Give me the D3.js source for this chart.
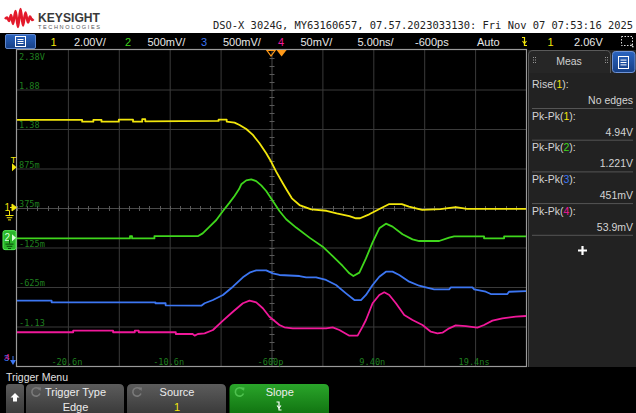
<!DOCTYPE html>
<html><head><meta charset="utf-8">
<script src="https://cdn.jsdelivr.net/npm/d3@7"></script>
<style>
html,body{margin:0;padding:0;background:#fff;}
svg{display:block;}
</style></head><body>
<svg id="c" width="636" height="413"></svg>
<script>
// ---------------- data ----------------
const titleText = "DSO-X 3024G, MY63160657, 07.57.2023033130: Fri Nov 07 07:53:16 2025";
const channels = ["1", "2", "3", "4"];
const channelColors = ["#f2e60c", "#3fd61c", "#3c76f2", "#f0189a"];
const voltsPerDiv = [2.0, 0.5, 0.5, 0.05];
const scaleLabels = ["2.00V/", "500mV/", "500mV/", "50mV/"];
const groundDiv = [0, -0.75, -4.5, -4.5];
const timeRange = [-25.6, 24.4];
const timeBase = "5.00ns/";
const delayLabel = "-600ps";
const modeLabel = "Auto";
const trigLevel = "2.06V";
const trigLevelVolts = 2.06;
const xTickValues = [-20.6, -10.6, -0.6, 9.4, 19.4];
const xTickLabels = ["-20.6n", "-10.6n", "-600p", "9.40n", "19.4ns"];
const yTickDivs = [4, 3, 2, 1, 0, -1, -2, -3];
const yTickLabels = ["2.38V", "1.88", "1.38", "875m", "375m", "-125m", "-625m", "-1.13"];
const measNames = ["Rise", "Pk-Pk", "Pk-Pk", "Pk-Pk", "Pk-Pk"];
const measChannels = [0, 0, 1, 2, 3];
const measValues = ["No edges", "4.94V", "1.221V", "451mV", "53.9mV"];
const softkeyTitles = ["Trigger Type", "Source", "Slope"];
const softkeyValues = ["Edge", "1", ""];

const ch1Time = [-25.6,-19.2,-19.2,-18.1,-18.1,-17.3,-17.3,-15.6,-15.6,-14.2,-14.2,-13.3,-13.3,-13.0,-13.0,-5.8,-5.8,-5.0,-5.0,-4.23,-3.74,-3.08,-2.43,-1.78,-1.12,-0.63,-0.14,0.51,0.9,1.4,2.15,3.3,4.8,5.8,7.05,7.7,8.1,9.0,10.0,10.97,12.2,12.9,14.2,16.0,17.5,18.6,24.4];
const ch1Volts = [4.46,4.46,4.37,4.37,4.46,4.46,4.37,4.37,4.47,4.47,4.37,4.37,4.5,4.5,4.39,4.41,4.47,4.47,4.37,4.32,4.20,4.0,3.70,3.28,2.77,2.34,1.84,1.25,0.91,0.49,0.15,-0.07,-0.14,-0.27,-0.41,-0.52,-0.52,-0.32,-0.05,0.20,0.20,0.07,-0.10,-0.06,0.04,-0.04,-0.04];

const ch2Time = [-25.6,-14.5,-14.5,-14.3,-14.3,-12.1,-12.1,-7.8,-7.36,-6.68,-6.02,-5.37,-4.72,-4.23,-3.8,-3.57,-3.08,-2.59,-2.1,-1.61,-1.12,-0.63,0.18,0.84,1.82,3.13,4.43,5.41,6.39,7.05,7.44,8.03,8.68,9.33,9.99,10.64,11.29,12.27,13.25,13.91,15.87,16.85,17.34,20.28,20.28,22.25,22.25,24.4];
const ch2Volts = [-0.01,-0.01,0.02,0.02,-0.01,-0.01,0.02,0.02,0.054,0.139,0.223,0.337,0.443,0.527,0.611,0.675,0.725,0.738,0.716,0.662,0.59,0.494,0.337,0.232,0.127,0,-0.114,-0.233,-0.359,-0.452,-0.486,-0.443,-0.263,-0.06,0.118,0.177,0.139,0.042,-0.022,-0.043,-0.043,0,0.016,0.016,-0.009,-0.009,0.016,0.016];

const ch3Time = [-25.6,-22.2,-22.2,-12.0,-12.0,-11.0,-11.0,-7.5,-7.17,-6.35,-5.37,-4.39,-3.41,-2.76,-2.1,-1.12,-0.47,0.18,2.15,2.8,3.78,4.76,5.74,6.72,7.54,8.19,8.68,9.33,9.99,10.64,11.29,11.95,12.93,13.91,14.56,15.38,16.85,17.02,19.14,19.31,20.45,20.94,22.57,22.73,24.4];
const ch3Volts = [1.077,1.077,1.056,1.056,1.044,1.044,1.018,1.013,1.044,1.085,1.149,1.254,1.373,1.431,1.461,1.461,1.423,1.402,1.389,1.373,1.373,1.339,1.275,1.17,1.085,1.085,1.149,1.275,1.38,1.444,1.444,1.402,1.317,1.266,1.246,1.221,1.221,1.246,1.246,1.221,1.19,1.161,1.161,1.19,1.199];

const ch4Time = [-25.6,-20.08,-20.08,-16.16,-16.16,-14.03,-14.03,-13.64,-13.64,-10.0,-10.0,-8.35,-8.15,-7.83,-7.17,-6.35,-5.37,-4.39,-3.41,-2.76,-2.1,-1.45,-0.8,0.18,0.67,1.49,4.76,5.41,6.07,7.05,7.86,8.35,8.68,9.33,9.99,10.48,10.97,11.62,12.44,13.25,14.23,15.05,15.7,16.19,16.85,17.5,18.48,19.62,20.28,21.1,22.08,23.39,24.4];
const ch4Volts = [0.0677,0.0677,0.0697,0.0697,0.0677,0.0677,0.0697,0.0697,0.0677,0.0677,0.0655,0.0655,0.0634,0.0655,0.0664,0.0706,0.0824,0.0937,0.1044,0.1077,0.1056,0.0981,0.0874,0.0769,0.0740,0.0727,0.0727,0.0740,0.0706,0.0634,0.0634,0.0748,0.0832,0.1044,0.1149,0.1183,0.1149,0.1044,0.0896,0.0832,0.0769,0.0684,0.0664,0.0672,0.0727,0.0765,0.0756,0.0735,0.0769,0.0824,0.0854,0.0874,0.0883];

const traceTimes = [ch1Time, ch2Time, ch3Time, ch4Time];
const traceVolts = [ch1Volts, ch2Volts, ch3Volts, ch4Volts];

// ---------------- drawing ----------------
const svg = d3.select("#c");
const W = 636, H = 413;
const gx0 = 17, gx1 = 526, gy0 = 50, gy1 = 366;
const x = d3.scaleLinear().domain(timeRange).range([gx0, gx1]);
const xDiv = d3.scaleLinear().domain([-5, 5]).range([gx0, gx1]);
const yDiv = d3.scaleLinear().domain([-4, 4]).range([gy1, gy0]);
const chScale = channels.map((c, i) => d3.scaleLinear()
  .domain([(-4 - groundDiv[i]) * voltsPerDiv[i], (4 - groundDiv[i]) * voltsPerDiv[i]])
  .range([gy1, gy0]));
const cx = xDiv(0), cy = yDiv(0);
const SANS = "'Liberation Sans', Arial, sans-serif";
const MONO = "'DejaVu Sans Mono', monospace";

const defs = svg.append("defs");
defs.append("clipPath").attr("id", "gclip").append("rect")
  .attr("x", gx0).attr("y", gy0).attr("width", gx1 - gx0).attr("height", gy1 - gy0);
function grad(id, c1, c2) {
  const g = defs.append("linearGradient").attr("id", id).attr("x1", 0).attr("y1", 0).attr("x2", 0).attr("y2", 1);
  g.append("stop").attr("offset", "0%").attr("stop-color", c1);
  g.append("stop").attr("offset", "100%").attr("stop-color", c2);
}
grad("gbtn", "#5c5c5c", "#333333");
grad("gbtnGreen", "#2aa52a", "#0c6a0c");
grad("gblue", "#2a64c0", "#163f85");

// backgrounds
svg.append("rect").attr("width", W).attr("height", H).attr("fill", "#ffffff");
svg.append("rect").attr("x", 0).attr("y", 33).attr("width", W).attr("height", H - 33).attr("fill", "#000");

// ---- header: logo + title
const logoPts = [[5,19],[7,17.5],[9,21],[11,15],[13,24],[15.5,11],[18,27],[20.5,9],[23,25.5],[25.5,12.5],[28,22.5],[30,16.5],[32,20],[33.5,19]];
svg.append("path").attr("d", d3.line().curve(d3.curveCatmullRom)(logoPts))
  .attr("fill", "none").attr("stroke", "#e3192b").attr("stroke-width", 2.6).attr("stroke-linejoin", "round");
svg.append("text").attr("x", 38).attr("y", 21.5).text("KEYSIGHT")
  .attr("font-family", SANS).attr("font-weight", "bold").attr("font-size", 12.8)
  .attr("textLength", 62).attr("lengthAdjust", "spacingAndGlyphs").attr("fill", "#3a3a3a");
svg.append("text").attr("x", 38).attr("y", 29).text("TECHNOLOGIES")
  .attr("font-family", SANS).attr("font-size", 5.6)
  .attr("textLength", 62).attr("lengthAdjust", "spacing").attr("fill", "#555");
svg.append("text").attr("x", 213).attr("y", 29).text(titleText)
  .attr("font-family", MONO).attr("font-size", 10.1).attr("fill", "#222")
  .attr("textLength", 420).attr("lengthAdjust", "spacingAndGlyphs");

// ---- status bar
const sb = svg.append("g").attr("font-family", SANS).attr("font-size", 11);
sb.append("rect").attr("x", 5.5).attr("y", 34.5).attr("width", 30).attr("height", 14).attr("rx", 1.5)
  .attr("fill", "url(#gblue)").attr("stroke", "#5f86cc");
function menuIcon(g, ix, iy, w, h) {
  g.append("rect").attr("x", ix).attr("y", iy).attr("width", w).attr("height", h)
    .attr("fill", "none").attr("stroke", "#fff").attr("stroke-width", 1);
  [0.3, 0.5, 0.7].forEach(f => g.append("line")
    .attr("x1", ix + 2).attr("x2", ix + w - 2).attr("y1", iy + h * f).attr("y2", iy + h * f)
    .attr("stroke", "#fff").attr("stroke-width", 1));
}
menuIcon(sb, 15.5, 36.5, 10, 10);
const sbX = [[50.5, 74], [125, 147.5], [201, 223], [278, 300.5]];
channels.forEach((c, i) => {
  sb.append("text").attr("x", sbX[i][0]).attr("y", 45.5).text(c).attr("fill", channelColors[i]);
  sb.append("text").attr("x", sbX[i][1]).attr("y", 45.5).text(scaleLabels[i]).attr("fill", "#e8e8e8");
});
sb.append("text").attr("x", 357.5).attr("y", 45.5).text(timeBase).attr("fill", "#e8e8e8");
sb.append("text").attr("x", 415).attr("y", 45.5).text(delayLabel).attr("fill", "#e8e8e8");
sb.append("text").attr("x", 477).attr("y", 45.5).text(modeLabel).attr("fill", "#e8e8e8");
function slopeIcon(g, sx, sy, col) {
  g.append("path").attr("d", `M${sx},${sy} h2.5 v8 h2.5`).attr("fill", "none")
    .attr("stroke", col).attr("stroke-width", 1.2);
  g.append("path").attr("d", `M${sx + 0.5},${sy + 3.5} l2,2.5 l2,-2.5`).attr("fill", "none")
    .attr("stroke", col).attr("stroke-width", 1.1);
}
slopeIcon(sb, 522, 37.5, channelColors[0]);
sb.append("text").attr("x", 547.5).attr("y", 45.5).text(channels[0]).attr("fill", channelColors[0]);
sb.append("text").attr("x", 574).attr("y", 45.5).text(trigLevel).attr("fill", "#e8e8e8");
sb.append("rect").attr("x", 621.5).attr("y", 36.5).attr("width", 11).attr("height", 9)
  .attr("fill", "none").attr("stroke", "#ddd").attr("stroke-dasharray", "1.5,1.5");
sb.append("path").attr("d", "M630,43 l4,4 l-1.5,0.5 z").attr("fill", "#ddd");

// ---- graticule
const grid = svg.append("g");
grid.append("rect").attr("x", gx0).attr("y", gy0).attr("width", gx1 - gx0).attr("height", gy1 - gy0).attr("fill", "#000");
d3.range(-4, 5).forEach(k => {
  grid.append("line").attr("x1", xDiv(k) + 0.5).attr("x2", xDiv(k) + 0.5).attr("y1", gy0).attr("y2", gy1)
    .attr("stroke", k === 0 ? "#4a4a4a" : "#3a3a3a").attr("stroke-width", 1);
});
d3.range(-3, 4).forEach(k => {
  grid.append("line").attr("x1", gx0).attr("x2", gx1).attr("y1", yDiv(k) + 0.5).attr("y2", yDiv(k) + 0.5)
    .attr("stroke", k === 0 ? "#4a4a4a" : "#3a3a3a").attr("stroke-width", 1);
});
d3.range(-5, 5.001, 0.2).forEach(k => {
  const px = Math.round(xDiv(k)) + 0.5;
  grid.append("line").attr("x1", px).attr("x2", px).attr("y1", cy - 2).attr("y2", cy + 3)
    .attr("stroke", "#5a5a5a");
});
d3.range(-4, 4.001, 0.2).forEach(k => {
  const py = Math.round(yDiv(k)) + 0.5;
  grid.append("line").attr("x1", cx - 2).attr("x2", cx + 3).attr("y1", py).attr("y2", py)
    .attr("stroke", "#5a5a5a");
});
// axis labels
const lab = svg.append("g").attr("font-family", MONO).attr("font-size", 8.6).attr("fill", "#1f7f1f");
yTickDivs.forEach((d, i) => {
  const yy = d === 4 ? yDiv(d) + 9.5 : yDiv(d) - 1;
  lab.append("text").attr("x", 19).attr("y", yy).text(yTickLabels[i]);
});
xTickValues.forEach((t, i) => {
  lab.append("text").attr("x", x(t) - 1).attr("y", gy1 - 1.5).attr("text-anchor", "middle").text(xTickLabels[i]);
});
// border
grid.append("rect").attr("x", gx0 - 0.5).attr("y", gy0 - 0.5).attr("width", gx1 - gx0 + 1).attr("height", gy1 - gy0 + 1)
  .attr("fill", "none").attr("stroke", "#9a9a9a").attr("stroke-width", 1.2);

// ---- traces
const tg = svg.append("g").attr("clip-path", "url(#gclip)");
[3, 2, 1, 0].forEach(i => {
  const pts = traceTimes[i].map((t, j) => [t, traceVolts[i][j]]);
  const line = d3.line().x(d => x(d[0])).y(d => chScale[i](d[1]));
  tg.append("path").attr("d", line(pts)).attr("fill", "none")
    .attr("stroke", channelColors[i]).attr("stroke-width", 1.8).attr("stroke-linejoin", "round");
});

// ---- trigger position marker (top)
const tx = x(0);
svg.append("path").attr("d", `M${cx - 4.5},${gy0 + 0.5} h8 l-4,5.5 z`).attr("fill", "none").attr("stroke", "#ff9a1a").attr("stroke-width", 1.2);
svg.append("path").attr("d", `M${tx - 1},${gy0} h10 l-5,6.5 z`).attr("fill", "#ff9a1a");

// ---- left markers
const lm = svg.append("g").attr("font-family", SANS);
const trigY = chScale[0](trigLevelVolts);
lm.append("text").attr("x", 10.5).attr("y", trigY - 4.5).text("T").attr("font-size", 9.5).attr("fill", channelColors[0]);
lm.append("path").attr("d", `M12,${trigY - 4} l4.5,4 l-4.5,4 z`).attr("fill", channelColors[0]);
function ground(g, gx, gy, col) {
  g.append("line").attr("x1", gx).attr("x2", gx).attr("y1", gy - 4).attr("y2", gy).attr("stroke", col);
  [[4, 0], [2.8, 2.2], [1.5, 4.4]].forEach(([w, dy]) => g.append("line")
    .attr("x1", gx - w).attr("x2", gx + w).attr("y1", gy + dy + 0.5).attr("y2", gy + dy + 0.5).attr("stroke", col));
}
const g1 = chScale[0](0);
lm.append("text").attr("x", 4.5).attr("y", g1 + 3).text(channels[0]).attr("font-size", 10).attr("fill", channelColors[0]);
lm.append("path").attr("d", `M10,${g1 - 0.5} h2 M12,${g1 - 4} l4.5,3.5 l-4.5,3.5 z`).attr("fill", channelColors[0]).attr("stroke", channelColors[0]);
ground(lm, 9.5, g1 + 7, channelColors[0]);
const g2 = chScale[1](0);
lm.append("rect").attr("x", 3).attr("y", g2 - 7).attr("width", 13).attr("height", 19).attr("rx", 2)
  .attr("fill", "#2ab52a").attr("stroke", "#55ee55");
lm.append("text").attr("x", 4.5).attr("y", g2 + 3).text(channels[1]).attr("font-size", 10).attr("fill", "#d8ffd8");
lm.append("path").attr("d", `M12,${g2 - 3.5} l4,3.5 l-4,3.5 z`).attr("fill", "#d8ffd8");
ground(lm, 9.5, g2 + 6, "#0a4a0a");
lm.append("text").attr("x", 4).attr("y", 361).text(channels[2]).attr("font-size", 9.5).attr("fill", channelColors[2]);
lm.append("text").attr("x", 4.5).attr("y", 360).text(channels[3]).attr("font-size", 9.5).attr("fill", channelColors[3]).attr("opacity", 0.85);
lm.append("path").attr("d", "M10,360 h6 l-3,5 z").attr("fill", channelColors[2]);
lm.append("line").attr("x1", 13).attr("x2", 13).attr("y1", 356).attr("y2", 360).attr("stroke", channelColors[2]);

// ---- measurement panel
const mp = svg.append("g").attr("font-family", SANS);
mp.append("rect").attr("x", 528).attr("y", gy0).attr("width", W - 528).attr("height", 317).attr("fill", "#262626");
mp.append("rect").attr("x", 528).attr("y", 73).attr("width", W - 528).attr("height", 294).attr("fill", "#222");
mp.append("path").attr("d", "M528.5,367 V55 Q528.5,50.5 533,50.5 H605.5 Q610.5,50.5 610.5,55 V73")
  .attr("fill", "none").attr("stroke", "#5a5a5a");
[533, 605].forEach(dx => {
  for (let r = 0; r < 3; r++) for (let c = 0; c < 2; c++)
    mp.append("rect").attr("x", dx + c * 2).attr("y", 57 + r * 2.5).attr("width", 1).attr("height", 1).attr("fill", "#999");
});
mp.append("text").attr("x", 569).attr("y", 65).attr("text-anchor", "middle").text("Meas")
  .attr("font-size", 10.5).attr("fill", "#cfcfcf");
mp.append("rect").attr("x", 612.5).attr("y", 51.5).attr("width", 22.5).attr("height", 21).attr("rx", 3)
  .attr("fill", "url(#gblue)").attr("stroke", "#6e93d6");
menuIcon(mp, 618.5, 56.5, 10, 12);
measNames.forEach((nm, i) => {
  const by = 88 + i * 31.7;
  const t = mp.append("text").attr("x", 532).attr("y", by).attr("font-size", 10.5).attr("fill", "#d4d4d4");
  t.append("tspan").text(nm + "(");
  t.append("tspan").text(channels[measChannels[i]]).attr("fill", channelColors[measChannels[i]]);
  t.append("tspan").text("):");
  mp.append("text").attr("x", 633).attr("y", by + 15.8).attr("text-anchor", "end").text(measValues[i])
    .attr("font-size", 10.5).attr("fill", "#d4d4d4");
  mp.append("line").attr("x1", 532).attr("x2", 633).attr("y1", by + 20.5).attr("y2", by + 20.5)
    .attr("stroke", "#555");
});
mp.append("path").attr("d", "M582.5,246 v9 M578,250.5 h9").attr("stroke", "#fff").attr("stroke-width", 2.2);

// ---- soft keys
const sk = svg.append("g").attr("font-family", SANS);
sk.append("text").attr("x", 6).attr("y", 381).text("Trigger Menu").attr("font-size", 10.5).attr("fill", "#e0e0e0");
sk.append("path").attr("d", "M6,420 V387 Q6,384 9,384 H21 Q24,384 24,387 V420 Z").attr("fill", "url(#gbtn)");
sk.append("path").attr("d", "M15,393 l4.5,4.5 h-2.5 v4 h-4 v-4 h-2.5 z").attr("fill", "#fff");
const keyX = [[26, 124], [127, 226], [229.5, 329]];
keyX.forEach(([a, b], i) => {
  const green = i === 2;
  sk.append("path").attr("d", `M${a},420 V389 Q${a},384 ${a + 5},384 H${b - 5} Q${b},384 ${b},389 V420 Z`)
    .attr("fill", green ? "url(#gbtnGreen)" : "url(#gbtn)");
  // knob icon
  const ix = a + 10, iy = 392;
  sk.append("path").attr("d", `M${ix + 3.5},${iy - 2.5} A4.2,4.2 0 1 0 ${ix + 4},${iy + 1.5}`)
    .attr("fill", "none").attr("stroke", green ? "#4fc24f" : "#7a7a7a").attr("stroke-width", 1.6);
  sk.append("path").attr("d", `M${ix + 1.5},${iy - 4.5} l3.5,0 l-0.5,3.5 z`).attr("fill", green ? "#4fc24f" : "#7a7a7a");
  const mx = (a + b) / 2;
  sk.append("text").attr("x", mx + 0.5).attr("y", 396).attr("text-anchor", "middle").text(softkeyTitles[i])
    .attr("font-size", 11).attr("fill", "#ececec");
  if (softkeyValues[i]) {
    sk.append("text").attr("x", mx + 0.5).attr("y", 410.5).attr("text-anchor", "middle").text(softkeyValues[i])
      .attr("font-size", 11).attr("fill", i === 1 ? channelColors[0] : "#ececec");
  }
});
slopeIcon(sk, 276.5, 402, "#ffffff");
</script>
</body></html>
